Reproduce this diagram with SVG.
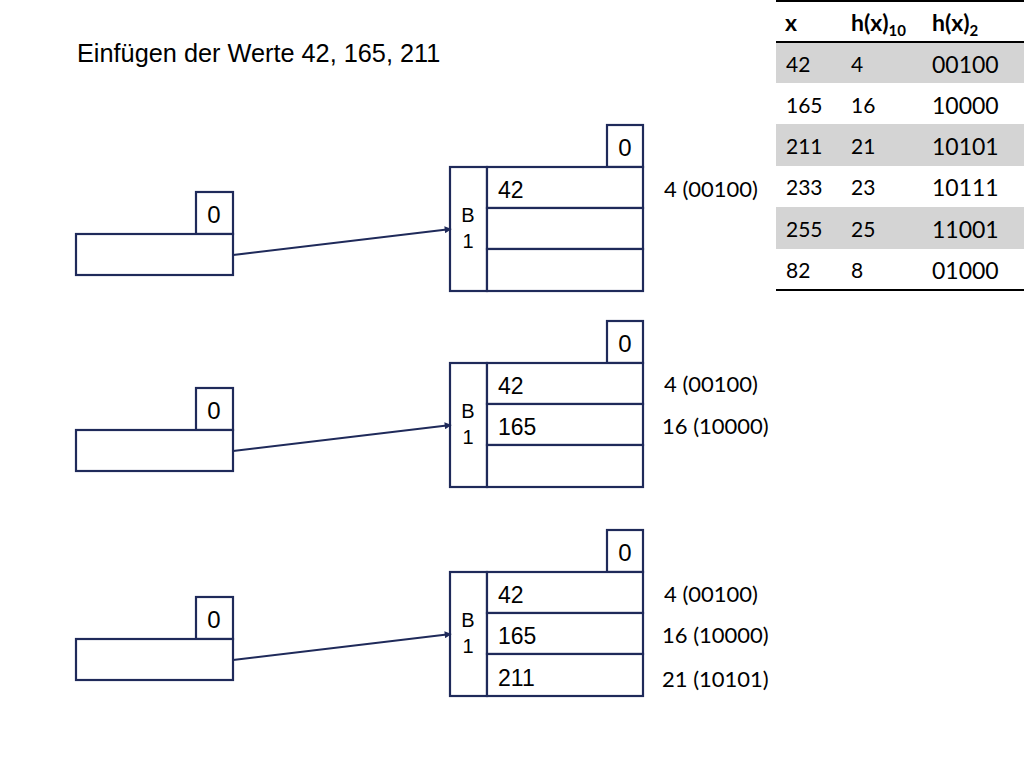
<svg xmlns="http://www.w3.org/2000/svg" width="1024" height="768" viewBox="0 0 1024 768">
<defs>
<style>
.box{fill:#fff;stroke:#1f2a5a;stroke-width:2.2}
.ar{font-family:"Liberation Sans",Arial,sans-serif;fill:#000}
.cal{font-family:Lato,"Noto Sans",sans-serif;fill:#000}
.conn{stroke:#1f2a5a;stroke-width:2.2;fill:none}
.grey{fill:#d4d4d4}
</style>
<marker id="ah" viewBox="0 0 10 10" refX="9" refY="5" markerWidth="9" markerHeight="7" orient="auto" markerUnits="userSpaceOnUse">
<path d="M0,0 L10,5 L0,10 z" fill="#1f2a5a"/>
</marker>
<g id="dirT">
<rect class="box" x="196" y="192" width="37" height="42"/>
<text class="ar" x="214" y="223" font-size="24" text-anchor="middle">0</text>
<rect class="box" x="76" y="234" width="157" height="41"/>
</g>
<g id="bucketT">
<rect class="box" x="607" y="125" width="36" height="42"/>
<text class="ar" x="625" y="156" font-size="24" text-anchor="middle">0</text>
<rect class="box" x="450" y="167" width="37" height="124"/>
<rect class="box" x="487" y="167" width="156" height="41"/>
<rect class="box" x="487" y="208" width="156" height="41"/>
<rect class="box" x="487" y="249" width="156" height="42"/>
<text class="ar" x="468" y="222" font-size="20" text-anchor="middle">B</text>
<text class="ar" x="468" y="248" font-size="20" text-anchor="middle">1</text>
</g>
</defs>

<text id="title" class="ar" x="77" y="62" font-size="25.3">Einfügen der Werte 42, 165, 211</text>

<g id="table">
<rect class="grey" x="776" y="42" width="248" height="41"/>
<rect class="grey" x="776" y="124" width="248" height="42"/>
<rect class="grey" x="776" y="207" width="248" height="42"/>
<line x1="776" y1="1" x2="1024" y2="1" stroke="#000" stroke-width="2"/>
<line x1="776" y1="42" x2="1024" y2="42" stroke="#000" stroke-width="2"/>
<line x1="776" y1="290" x2="1024" y2="290" stroke="#000" stroke-width="2"/>
<g class="cal" font-weight="bold" font-size="23">
<text x="785" y="31">x</text>
<text x="851" y="31">h(x)<tspan font-size="15" dy="5">10</tspan></text>
<text x="932" y="31">h(x)<tspan font-size="15" dy="5">2</tspan></text>
</g>
<g class="cal" font-size="21">
<text x="786" y="72">42</text><text x="851" y="72">4</text>
<text x="786" y="113">165</text><text x="851" y="113">16</text>
<text x="786" y="154">211</text><text x="851" y="154">21</text>
<text x="786" y="195">233</text><text x="851" y="195">23</text>
<text x="786" y="237">255</text><text x="851" y="237">25</text>
<text x="786" y="278">82</text><text x="851" y="278">8</text>
</g>
<g class="cal" font-size="23">
<text x="932" y="73">00100</text>
<text x="932" y="114">10000</text>
<text x="932" y="155">10101</text>
<text x="932" y="196">10111</text>
<text x="932" y="238">11001</text>
<text x="932" y="279">01000</text>
</g>
</g>

<g id="dir1"><use href="#dirT"/></g>
<g id="bucket1">
<use href="#bucketT"/>
<text class="ar" x="498" y="198" font-size="23">42</text>
<text class="cal" x="664" y="197" font-size="22">4 (00100)</text>
</g>

<g id="dir2"><use href="#dirT" y="196"/></g>
<g id="bucket2">
<use href="#bucketT" y="196"/>
<text class="ar" x="498" y="394" font-size="23">42</text>
<text class="ar" x="498" y="435" font-size="23">165</text>
<text class="cal" x="664" y="392" font-size="22">4 (00100)</text>
<text class="cal" x="662" y="434" font-size="22">16 (10000)</text>
</g>

<g id="dir3"><use href="#dirT" y="405"/></g>
<g id="bucket3">
<use href="#bucketT" y="405"/>
<text class="ar" x="498" y="603" font-size="23">42</text>
<text class="ar" x="498" y="644" font-size="23">165</text>
<text class="ar" x="498" y="686" font-size="23">211</text>
<text class="cal" x="664" y="602" font-size="22">4 (00100)</text>
<text class="cal" x="662" y="643" font-size="22">16 (10000)</text>
<text class="cal" x="662" y="687" font-size="22">21 (10101)</text>
</g>

<g id="connectors">
<line class="conn" x1="233" y1="255" x2="451" y2="229" marker-end="url(#ah)"/>
<line class="conn" x1="233" y1="451" x2="451" y2="425" marker-end="url(#ah)"/>
<line class="conn" x1="233" y1="660" x2="451" y2="634" marker-end="url(#ah)"/>
</g>
</svg>
